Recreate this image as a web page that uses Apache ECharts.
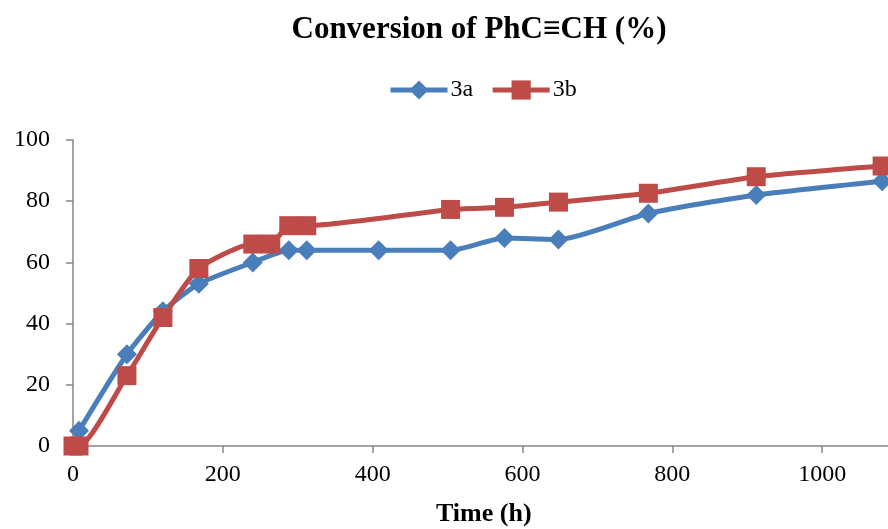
<!DOCTYPE html>
<html>
<head>
<meta charset="utf-8">
<script src="https://cdn.jsdelivr.net/npm/echarts@6/dist/echarts.min.js"></script>
<style>
  html, body { margin: 0; padding: 0; background: #fff; }
  #chart { width: 888px; height: 529px; }
</style>
</head>
<body>
<div id="chart"></div>
<script>
// Reaction time (h) and conversion (%) for each catalyst
const times3a = [8, 72, 120, 168, 240, 288, 312, 408, 504, 576, 648, 768, 912, 1080];
const conv3a  = [5, 30, 44, 53, 60, 64, 64, 64, 64, 68, 67.5, 76, 82, 86.5];

const times3b = [0, 8, 72, 120, 168, 240, 264, 288, 312, 504, 576, 648, 768, 912, 1080];
const conv3b  = [0, 0, 23, 42, 58, 66, 66, 72, 72, 77.3, 78, 79.7, 82.6, 88, 91.5];

const seriesNames = ['3a', '3b'];
const xTicks = { min: 0, max: 1200, step: 200 };
const yTicks = { min: 0, max: 100, step: 20 };

const pairs = (xs, ys) => xs.map((x, i) => [x, ys[i]]);

const serif = '"Liberation Serif", "Times New Roman", serif';
const axisGrey = '#868686';
const blue = '#4A7EBB';
const red = '#BE4B48';

const chart = echarts.init(document.getElementById('chart'), null, { renderer: 'canvas' });
chart.setOption({
  animation: false,
  backgroundColor: '#ffffff',
  title: {
    text: 'Conversion of PhC\u2261CH (%)',
    left: 474, top: 9, textAlign: 'center',
    textStyle: { fontFamily: serif, fontWeight: 'bold', fontSize: 31, color: '#000' }
  },
  legend: {
    data: seriesNames,
    left: 383, top: 73,
    itemWidth: 57, itemHeight: 24, itemGap: 17,
    lineStyle: { width: 5 },
    textStyle: { fontFamily: serif, fontSize: 24, color: '#000', padding: [0, 0, 0, -2] }
  },
  // plot extends past the right edge of the canvas, so the 1200 end is cut off
  grid: { left: 73, top: 140, right: -84, bottom: 83, containLabel: false, outerBoundsMode: 'none' },
  xAxis: {
    type: 'value',
    min: xTicks.min, max: xTicks.max, interval: xTicks.step,
    axisLine: { show: true, lineStyle: { color: axisGrey, width: 1.5 } },
    axisTick: { show: true, inside: false, length: 7, lineStyle: { color: axisGrey, width: 1.5 } },
    axisLabel: { fontFamily: serif, fontSize: 24, color: '#000', margin: 17, formatter: v => String(v) },
    splitLine: { show: false }
  },
  yAxis: {
    type: 'value',
    min: yTicks.min, max: yTicks.max, interval: yTicks.step,
    axisLine: { show: true, lineStyle: { color: axisGrey, width: 1.5 } },
    axisTick: { show: true, inside: false, length: 7, lineStyle: { color: axisGrey, width: 1.5 } },
    axisLabel: { fontFamily: serif, fontSize: 24, color: '#000', margin: 23 },
    splitLine: { show: false }
  },
  graphic: [{
    type: 'text',
    left: 436, top: 501,
    style: {
      text: 'Time (h)',
      font: 'bold 26px ' + serif, fill: '#000'
    }
  }],
  series: [
    {
      name: seriesNames[0], type: 'line', smooth: 0.2,
      data: pairs(times3a, conv3a),
      symbol: 'diamond', symbolSize: 20,
      itemStyle: { color: blue },
      lineStyle: { color: blue, width: 5 },
      clip: false
    },
    {
      name: seriesNames[1], type: 'line', smooth: 0.2,
      data: pairs(times3b, conv3b),
      symbol: 'rect', symbolSize: 19,
      itemStyle: { color: red },
      lineStyle: { color: red, width: 5 },
      clip: false
    }
  ]
});
</script>
</body>
</html>
